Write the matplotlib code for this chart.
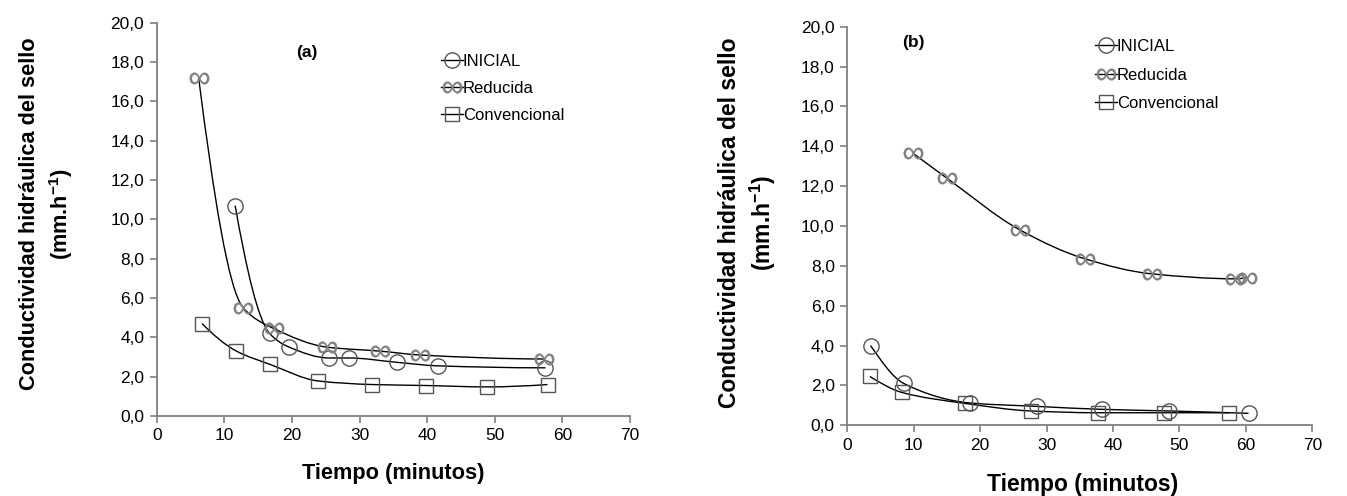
import matplotlib
matplotlib.use('Agg')
import numpy as np
import matplotlib.pyplot as plt
from matplotlib.path import Path
from matplotlib.patches import PathPatch
from matplotlib.ticker import FuncFormatter

plt.rcParams['font.family'] = ['Liberation Sans', 'DejaVu Sans']
plt.rcParams['mathtext.default'] = 'regular'

series_names = ['INICIAL', 'Reducida', 'Convencional']

# panel (a)
a_ini_x = [11.6, 16.7, 19.6, 25.5, 28.5, 35.5, 41.6, 57.5]
a_ini_y = [10.7, 4.2, 3.5, 2.95, 2.95, 2.73, 2.55, 2.45]
a_red_x = [6.2, 12.8, 17.3, 25.2, 33.0, 39.0, 57.3]
a_red_y = [17.2, 5.5, 4.45, 3.5, 3.3, 3.1, 2.9]
a_con_x = [6.7, 11.8, 16.8, 23.9, 31.9, 39.9, 48.8, 57.8]
a_con_y = [4.7, 3.3, 2.62, 1.78, 1.6, 1.55, 1.48, 1.6]

# panel (b)
b_ini_x = [3.5, 8.5, 18.5, 28.5, 38.4, 48.4, 60.4]
b_ini_y = [4.0, 2.1, 1.12, 0.95, 0.8, 0.72, 0.6]
b_red_x = [9.9, 15.0, 26.0, 35.8, 45.8, 58.4, 60.1]
b_red_y = [13.65, 12.4, 9.8, 8.35, 7.6, 7.35, 7.4]
b_con_x = [3.4, 8.2, 17.7, 27.6, 37.7, 47.6, 57.5]
b_con_y = [2.45, 1.65, 1.1, 0.72, 0.63, 0.63, 0.63]

y_ticks = [0, 2, 4, 6, 8, 10, 12, 14, 16, 18, 20]
x_ticks = [0, 10, 20, 30, 40, 50, 60, 70]

mstyle = {
    'INICIAL': dict(marker='o', ms=11, mfc='none', mec='#555555', mew=1.0),
    'Reducida': dict(marker=r'$\infty$', ms=14, mfc='#808080', mec='#808080', mew=0.2),
    'Convencional': dict(marker='s', ms=10, mfc='none', mec='#555555', mew=1.0),
}


def smooth_path(xs, ys):
    # monotone (pchip-style) tangents, drawn as bezier segments
    x = np.asarray(xs, float)
    y = np.asarray(ys, float)
    h = np.diff(x)
    d = np.diff(y) / h
    n = len(x)
    m = np.zeros(n)
    for i in range(1, n - 1):
        if d[i - 1] * d[i] > 0:
            w1 = 2 * h[i] + h[i - 1]
            w2 = h[i] + 2 * h[i - 1]
            m[i] = (w1 + w2) / (w1 / d[i - 1] + w2 / d[i])
    m[0] = d[0] if n < 3 else ((2 * h[0] + h[1]) * d[0] - h[0] * d[1]) / (h[0] + h[1])
    if np.sign(m[0]) != np.sign(d[0]):
        m[0] = 0
    m[-1] = d[-1] if n < 3 else ((2 * h[-1] + h[-2]) * d[-1] - h[-1] * d[-2]) / (h[-1] + h[-2])
    if np.sign(m[-1]) != np.sign(d[-1]):
        m[-1] = 0
    verts = [(x[0], y[0])]
    codes = [Path.MOVETO]
    for i in range(n - 1):
        verts += [(x[i] + h[i] / 3, y[i] + m[i] * h[i] / 3),
                  (x[i + 1] - h[i] / 3, y[i + 1] - m[i + 1] * h[i] / 3),
                  (x[i + 1], y[i + 1])]
        codes += [Path.CURVE4] * 3
    return Path(verts, codes)


def draw_panel(ax, data, tag, tag_xy, leg_anchor, lspace):
    for name, (xs, ys) in zip(series_names, data):
        ax.add_patch(PathPatch(smooth_path(xs, ys), fc='none', ec='black', lw=1.0))
        ax.plot(xs, ys, ls='none', **mstyle[name])
    handles = [plt.Line2D([], [], color='black', lw=1.0, **mstyle[n]) for n in series_names]
    ax.legend(handles, series_names, loc='upper left', bbox_to_anchor=leg_anchor,
              bbox_transform=ax.figure.transFigure, frameon=False, fontsize=12,
              handlelength=1.3, handletextpad=0.0, labelspacing=lspace,
              borderpad=0, borderaxespad=0)
    ax.set_xlim(0, 70)
    ax.set_ylim(0, 20)
    ax.set_xticks(x_ticks)
    ax.set_yticks(y_ticks)
    ax.yaxis.set_major_formatter(FuncFormatter(lambda v, p: ('%.1f' % v).replace('.', ',')))
    for s in ['top', 'right']:
        ax.spines[s].set_visible(False)
    for s in ['left', 'bottom']:
        ax.spines[s].set_color('#808080')
        ax.spines[s].set_linewidth(1.3)
    ax.tick_params(direction='out', length=5, width=1.2, color='#808080', labelsize=12.5, pad=4)
    ax.text(tag_xy[0], tag_xy[1], tag, transform=ax.figure.transFigure, fontsize=12.5,
            fontweight='bold', ha='center', va='center')


fig = plt.figure(figsize=(13.47, 4.96), dpi=100)
W, H = 1347.0, 496.0

ax1 = fig.add_axes([156.7 / W, 1 - 416 / H, (630 - 156.7) / W, (416 - 22.7) / H])
ax2 = fig.add_axes([847.3 / W, 1 - 425.3 / H, (1312.3 - 847.3) / W, (425.3 - 26.7) / H])

draw_panel(ax1, [(a_ini_x, a_ini_y), (a_red_x, a_red_y), (a_con_x, a_con_y)],
           '(a)', (307 / W, 1 - 52 / H), (441 / W, 1 - 54 / H), 0.72)
draw_panel(ax2, [(b_ini_x, b_ini_y), (b_red_x, b_red_y), (b_con_x, b_con_y)],
           '(b)', (913 / W, 1 - 43 / H), (1095 / W, 1 - 39 / H), 0.82)

ylab = 'Conductividad hidráulica del sello\n(mm.h$^{-1}$)'
fig.text(47 / W, 1 - 214 / H, ylab, rotation=90, ha='center', va='center',
         fontsize=15.7, fontweight='bold', multialignment='center', linespacing=1.3)
fig.text(748 / W, 1 - 223 / H, ylab, rotation=90, ha='center', va='center',
         fontsize=16.5, fontweight='bold', multialignment='center', linespacing=1.3)
fig.text(393 / W, 1 - 473 / H, 'Tiempo (minutos)', ha='center', va='center',
         fontsize=15.7, fontweight='bold')
fig.text(1083 / W, 1 - 484 / H, 'Tiempo (minutos)', ha='center', va='center',
         fontsize=16.5, fontweight='bold')

fig.savefig('out.png', dpi=100)
